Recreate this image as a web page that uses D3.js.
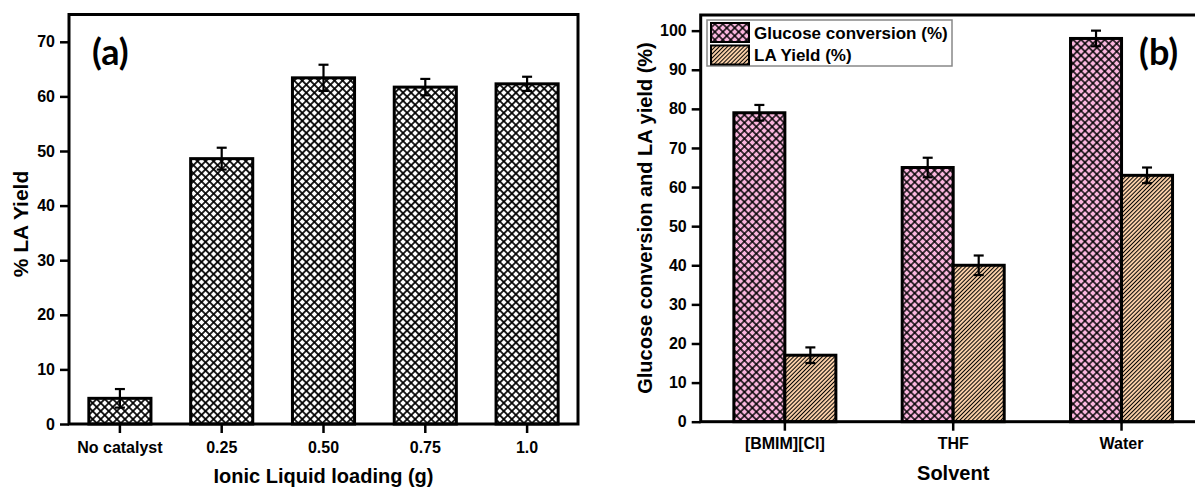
<!DOCTYPE html>
<html>
<head>
<meta charset="utf-8">
<script src="https://cdn.jsdelivr.net/npm/d3@7"></script>
<style>
  body { margin: 0; background: #fff; }
  svg text { font-family: "Liberation Sans", Arial, sans-serif; font-weight: bold; fill: #000; }
  svg text.tag { font-family: Lato, "Open Sans", sans-serif; }
</style>
</head>
<body>
<svg width="1195" height="487"></svg>
<script>
// panel (a) data
const loadings = ["No catalyst", "0.25", "0.50", "0.75", "1.0"];
const laYieldA = [4.7, 48.6, 63.4, 61.7, 62.3];
const laErrA = [1.7, 2.0, 2.4, 1.5, 1.3];
const ticksA = [0, 10, 20, 30, 40, 50, 60, 70];

// panel (b) data
const solvents = ["[BMIM][Cl]", "THF", "Water"];
const seriesB = ["Glucose conversion (%)", "LA Yield (%)"];
const glucoseConv = [79, 65, 98];
const glucoseErr = [2, 2.5, 2];
const laYieldB = [17, 40, 63];
const laErrB = [2, 2.5, 2];
const ticksB = [0, 10, 20, 30, 40, 50, 60, 70, 80, 90, 100];

const svg = d3.select("svg");
const defs = svg.append("defs");

// crosshatch patterns
function crossHatch(id, bg, d, sw) {
  const p = defs.append("pattern")
    .attr("id", id)
    .attr("patternUnits", "userSpaceOnUse")
    .attr("width", d).attr("height", d)
    .attr("patternTransform", "rotate(45)");
  p.append("rect").attr("width", d).attr("height", d).attr("fill", bg);
  p.append("line").attr("x1", d / 2).attr("x2", d / 2).attr("y1", 0).attr("y2", d)
    .attr("stroke", "#000").attr("stroke-width", sw);
  p.append("line").attr("y1", d / 2).attr("y2", d / 2).attr("x1", 0).attr("x2", d)
    .attr("stroke", "#000").attr("stroke-width", sw);
}
crossHatch("hatchA", "#fff", 5.7, 1.7);
crossHatch("hatchPink", "#fbb6de", 5.6, 1.45);

const sw = 2.9;
const stripe = defs.append("pattern")
  .attr("id", "stripeTan")
  .attr("patternUnits", "userSpaceOnUse")
  .attr("width", sw).attr("height", sw)
  .attr("patternTransform", "rotate(45)");
stripe.append("rect").attr("width", sw).attr("height", sw).attr("fill", "#f7cda6");
stripe.append("line").attr("x1", sw / 2).attr("x2", sw / 2).attr("y1", 0).attr("y2", sw)
  .attr("stroke", "#000").attr("stroke-width", 0.95);

function errorBar(g, x, y0, y1, cap) {
  g.append("line").attr("x1", x).attr("x2", x).attr("y1", y0).attr("y2", y1);
  g.append("line").attr("x1", x - cap / 2).attr("x2", x + cap / 2).attr("y1", y0).attr("y2", y0);
  g.append("line").attr("x1", x - cap / 2).attr("x2", x + cap / 2).attr("y1", y1).attr("y2", y1);
}

function styleAxis(g) {
  g.attr("font-family", null);
  g.select(".domain").remove();
  g.selectAll(".tick line").attr("stroke", "#000").attr("stroke-width", 2.5);
  g.selectAll(".tick text").style("font-size", "16px");
}

// ---------- panel (a) ----------
const ax = { left: 69, right: 578, top: 14.5, bottom: 424 };

const xA = d3.scaleBand().domain(loadings)
  .range([ax.left, ax.right]).paddingInner(0.39).paddingOuter(0.195);
const yA = d3.scaleLinear().domain([0, 75]).range([ax.bottom, ax.top]);

const gA = svg.append("g");

gA.selectAll("rect.bar")
  .data(loadings)
  .enter()
  .append("rect")
  .attr("class", "bar")
  .attr("x", d => xA(d))
  .attr("width", xA.bandwidth())
  .attr("y", (d, i) => yA(laYieldA[i]))
  .attr("height", (d, i) => yA(0) - yA(laYieldA[i]))
  .attr("fill", "url(#hatchA)")
  .attr("stroke", "#000")
  .attr("stroke-width", 3);

const errGA = gA.append("g").attr("stroke", "#000").attr("stroke-width", 2.2);
loadings.forEach((d, i) => {
  const cx = xA(d) + xA.bandwidth() / 2;
  errorBar(errGA, cx, yA(laYieldA[i] + laErrA[i]), yA(laYieldA[i] - laErrA[i]), 10);
});

gA.append("g")
  .attr("transform", `translate(${ax.left},0)`)
  .call(d3.axisLeft(yA).tickValues(ticksA).tickSize(9).tickPadding(5))
  .call(styleAxis);

gA.append("g")
  .attr("transform", `translate(0,${ax.bottom})`)
  .call(d3.axisBottom(xA).tickSize(9).tickPadding(9))
  .call(styleAxis);

gA.append("rect")
  .attr("x", ax.left).attr("y", ax.top)
  .attr("width", ax.right - ax.left).attr("height", ax.bottom - ax.top)
  .attr("fill", "none").attr("stroke", "#000").attr("stroke-width", 3);

gA.append("text")
  .attr("transform", `translate(28,224) rotate(-90)`)
  .attr("text-anchor", "middle")
  .style("font-size", "21px")
  .text("% LA Yield");

gA.append("text")
  .attr("x", (ax.left + ax.right) / 2).attr("y", 483)
  .attr("text-anchor", "middle")
  .style("font-size", "20px")
  .text("Ionic Liquid loading (g)");

gA.append("text")
  .attr("class", "tag")
  .attr("x", 92).attr("y", 65)
  .style("font-size", "36px")
  .text("(a)");

// ---------- panel (b) ----------
const bx = { left: 700.7, right: 1205.7, top: 15, bottom: 421.7 };

const x0 = d3.scaleBand().domain(solvents)
  .range([bx.left, bx.right]).paddingInner(0.394).paddingOuter(0.197);
const x1 = d3.scaleBand().domain(seriesB).range([0, x0.bandwidth()]);
const yB = d3.scaleLinear().domain([0, 104]).range([bx.bottom, bx.top]);

const valuesB = [glucoseConv, laYieldB];
const errsB = [glucoseErr, laErrB];
const fillsB = ["url(#hatchPink)", "url(#stripeTan)"];

const gB = svg.append("g");

seriesB.forEach((s, si) => {
  gB.append("g")
    .selectAll("rect")
    .data(solvents)
    .enter()
    .append("rect")
    .attr("x", d => x0(d) + x1(s))
    .attr("width", x1.bandwidth())
    .attr("y", (d, i) => yB(valuesB[si][i]))
    .attr("height", (d, i) => yB(0) - yB(valuesB[si][i]))
    .attr("fill", fillsB[si])
    .attr("stroke", "#000")
    .attr("stroke-width", 3);
});

const errGB = gB.append("g").attr("stroke", "#000").attr("stroke-width", 2.2);
seriesB.forEach((s, si) => {
  solvents.forEach((d, i) => {
    const cx = x0(d) + x1(s) + x1.bandwidth() / 2;
    const v = valuesB[si][i], e = errsB[si][i];
    errorBar(errGB, cx, yB(v + e), yB(v - e), 10);
  });
});

gB.append("g")
  .attr("transform", `translate(${bx.left},0)`)
  .call(d3.axisLeft(yB).tickValues(ticksB).tickSize(9).tickPadding(5))
  .call(styleAxis);

gB.append("g")
  .attr("transform", `translate(0,${bx.bottom})`)
  .call(d3.axisBottom(x0).tickSize(9).tickPadding(7))
  .call(styleAxis);

gB.append("rect")
  .attr("x", bx.left).attr("y", bx.top)
  .attr("width", bx.right - bx.left).attr("height", bx.bottom - bx.top)
  .attr("fill", "none").attr("stroke", "#000").attr("stroke-width", 3);

gB.append("text")
  .attr("transform", `translate(652,218) rotate(-90)`)
  .attr("text-anchor", "middle")
  .style("font-size", "20px")
  .text("Glucose conversion and LA yield (%)");

gB.append("text")
  .attr("x", (bx.left + bx.right) / 2).attr("y", 480)
  .attr("text-anchor", "middle")
  .style("font-size", "20px")
  .text("Solvent");

gB.append("text")
  .attr("class", "tag")
  .attr("x", 1139).attr("y", 65)
  .style("font-size", "36px")
  .text("(b)");

// legend
const legend = gB.append("g").attr("transform", "translate(707,20)");
legend.append("rect")
  .attr("width", 245).attr("height", 46)
  .attr("fill", "#fff").attr("stroke", "#888").attr("stroke-width", 1.5);
seriesB.forEach((s, si) => {
  legend.append("rect")
    .attr("x", 4).attr("y", 3 + si * 22.5)
    .attr("width", 38).attr("height", 19)
    .attr("fill", fillsB[si]).attr("stroke", "#000").attr("stroke-width", 2);
  legend.append("text")
    .attr("x", 47).attr("y", 18.5 + si * 22.5)
    .style("font-size", "17px")
    .text(s);
});
</script>
</body>
</html>
